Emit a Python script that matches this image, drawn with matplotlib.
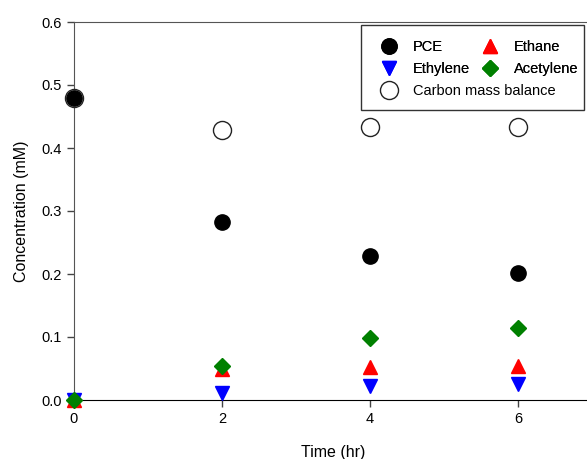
import matplotlib.pyplot as plt
from matplotlib.patches import Rectangle
from matplotlib.lines import Line2D

plt.rcParams['font.family'] = ['Liberation Sans', 'DejaVu Sans']
plt.rcParams['font.size'] = 10.5

time_hr = [0, 2, 4, 6]
pce = [0.480, 0.282, 0.229, 0.202]
ethane = [0.0, 0.050, 0.052, 0.054]
ethylene = [0.0, 0.011, 0.022, 0.025]
acetylene = [0.0, 0.054, 0.098, 0.115]
carbon_balance = [0.480, 0.428, 0.434, 0.433]

W, H = 587, 459
fig = plt.figure(figsize=(W / 100, H / 100), dpi=100)
ax = fig.add_axes([74 / W, 59 / H, 518 / W, 378 / H])

ax.plot(time_hr, carbon_balance, 'o', ms=13, mfc='white', mec='#222222', mew=1.0, ls='none', zorder=3)
ax.plot(time_hr, pce, 'o', ms=11, color='black', ls='none', zorder=4)
ax.plot(time_hr, ethane, '^', ms=10, color='red', ls='none', zorder=4)
ax.plot(time_hr, ethylene, 'v', ms=10, color='blue', ls='none', zorder=4)
ax.plot(time_hr, acetylene, 'D', ms=8.5, color='green', ls='none', zorder=5)

ax.set_xlim(0, 7)
ax.set_ylim(0, 0.6)
ax.set_xticks([0, 2, 4, 6])
ax.set_yticks([0.0, 0.1, 0.2, 0.3, 0.4, 0.5, 0.6])
ax.set_yticklabels(['0.0', '0.1', '0.2', '0.3', '0.4', '0.5', '0.6'])
ax.tick_params(direction='out', length=5, width=1, color='#444444')
for s in ['left', 'top']:
    ax.spines[s].set_color('#555555')
ax.spines['bottom'].set_color('black')
ax.spines['right'].set_visible(False)
ax.set_xlabel('Time (hr)', labelpad=14, fontsize=11.5)
ax.set_ylabel('Concentration (mM)', labelpad=9, fontsize=11.5)
for c in ax.get_children():
    if isinstance(c, Line2D):
        c.set_clip_on(False)

# legend, drawn as two pieces with a shared frame
h_pce = Line2D([], [], marker='o', ms=11, color='black', ls='none')
h_ethylene = Line2D([], [], marker='v', ms=10, color='blue', ls='none')
h_ethane = Line2D([], [], marker='^', ms=10, color='red', ls='none')
h_acet = Line2D([], [], marker='D', ms=8.5, color='green', ls='none')
h_carbon = Line2D([], [], marker='o', ms=13, mfc='white', mec='#222222', ls='none')

leg1 = fig.legend([h_pce, h_ethylene, h_ethane, h_acet], ['PCE', 'Ethylene', 'Ethane', 'Acetylene'],
                  ncol=2, frameon=False, loc='upper left', bbox_to_anchor=(380 / W, 1 - 40 / H),
                  bbox_transform=fig.transFigure, handlelength=1.2, handletextpad=1.05,
                  columnspacing=0.75, labelspacing=0.55, borderpad=0, borderaxespad=0)
leg2 = fig.legend([h_carbon], ['Carbon mass balance'], frameon=False, loc='upper left',
                  bbox_to_anchor=(380 / W, 1 - 84 / H), bbox_transform=fig.transFigure,
                  handlelength=1.2, handletextpad=1.05, borderpad=0, borderaxespad=0)
fig.add_artist(leg1)
fig.patches.append(Rectangle((361 / W, 1 - 110 / H), 223 / W, 85 / H, transform=fig.transFigure,
                             fill=False, ec='#333333', lw=1.0, figure=fig))

fig.savefig('out.png', dpi=100)
